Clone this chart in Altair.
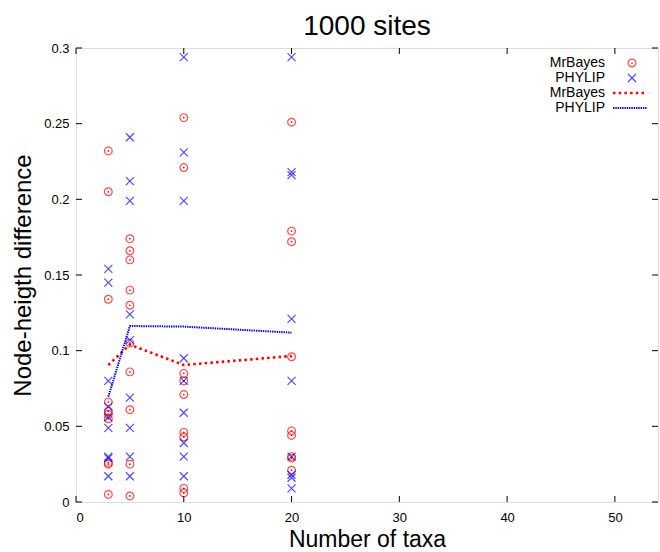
import altair as alt
import pandas as pd

# Node-height difference per replicate, grouped by number of taxa
mrbayes_3 = [0.232, 0.205, 0.134, 0.066, 0.060, 0.058, 0.055, 0.026, 0.025, 0.005]
phylip_3 = [0.154, 0.145, 0.080, 0.063, 0.056, 0.049, 0.030, 0.029, 0.017]
mrbayes_5 = [0.174, 0.166, 0.160, 0.140, 0.130, 0.105, 0.086, 0.061, 0.025, 0.004]
phylip_5 = [0.241, 0.212, 0.199, 0.124, 0.107, 0.069, 0.049, 0.030, 0.017]
mrbayes_10 = [0.254, 0.221, 0.085, 0.080, 0.071, 0.046, 0.043, 0.009, 0.006]
phylip_10 = [0.294, 0.231, 0.199, 0.095, 0.080, 0.059, 0.039, 0.030, 0.017]
mrbayes_20 = [0.251, 0.179, 0.172, 0.096, 0.047, 0.044, 0.030, 0.029, 0.021]
phylip_20 = [0.294, 0.218, 0.216, 0.121, 0.080, 0.030, 0.018, 0.016, 0.009]

# Mean curves
taxa = [3, 5, 10, 20]
mrbayes_mean = [0.0905, 0.104, 0.0905, 0.0965]
phylip_mean = [0.0696, 0.1163, 0.1159, 0.1119]

x_ticks = [0, 10, 20, 30, 40, 50]
y_ticks = [0, 0.05, 0.1, 0.15, 0.2, 0.25, 0.3]
key_labels = ["MrBayes", "PHYLIP", "MrBayes", "PHYLIP"]

W, H = 582, 454
FONT = "Liberation Sans"
RED = "#ff0000"
BLUE = "#0000ff"


def points(groups):
    rows = []
    for n, vals in groups:
        rows += [{"taxa": n, "diff": v} for v in vals]
    return pd.DataFrame(rows)


mb_pts = points([(3, mrbayes_3), (5, mrbayes_5), (10, mrbayes_10), (20, mrbayes_20)])
ph_pts = points([(3, phylip_3), (5, phylip_5), (10, phylip_10), (20, phylip_20)])
mb_line = pd.DataFrame({"taxa": taxa, "diff": mrbayes_mean})
ph_line = pd.DataFrame({"taxa": taxa, "diff": phylip_mean})

xs = alt.Scale(domain=[0, 54], nice=False, zero=False)
ys = alt.Scale(domain=[0, 0.3], nice=False)

X = alt.X("taxa:Q", scale=xs, title="Number of taxa",
          axis=alt.Axis(values=x_ticks, tickSize=0, domain=False, grid=False,
                        labelPadding=9, titlePadding=4, labelFontSize=13,
                        titleFontSize=23, labelFont=FONT, titleFont=FONT,
                        titleFontWeight="normal", labelColor="black",
                        titleColor="black"))
Y = alt.Y("diff:Q", scale=ys, title="Node-heigth difference",
          axis=alt.Axis(values=y_ticks, format="~g", tickSize=0, domain=False,
                        grid=False, labelPadding=7, titlePadding=8,
                        labelFontSize=13, titleFontSize=24, labelFont=FONT,
                        titleFont=FONT, titleFontWeight="normal",
                        labelColor="black", titleColor="black"))

X_CROSS = "M-1,-1L1,1M-1,1L1,-1"

mb_circ = alt.Chart(mb_pts).mark_point(
    shape="circle", size=60, color=RED, strokeWidth=1.2, filled=False
).encode(x=X, y=Y)
mb_dot = alt.Chart(mb_pts).mark_point(
    shape="circle", size=3, color=RED, filled=True, opacity=1
).encode(x="taxa:Q", y="diff:Q")
ph_x = alt.Chart(ph_pts).mark_point(
    shape=X_CROSS, size=64, color=BLUE, strokeWidth=1.2, filled=False
).encode(x="taxa:Q", y="diff:Q")

mb_ln = alt.Chart(mb_line).mark_line(
    color=RED, strokeWidth=2.6, strokeDash=[2.5, 3.2]
).encode(x="taxa:Q", y="diff:Q")
ph_ln = alt.Chart(ph_line).mark_line(
    color=BLUE, strokeWidth=2, strokeDash=[1.4, 0.9]
).encode(x="taxa:Q", y="diff:Q")

# Inward tick marks on all four sides
xt = pd.DataFrame({"taxa": x_ticks})
yt = pd.DataFrame({"diff": y_ticks})
tick_style = dict(color="black", strokeWidth=1)
ticks = [
    alt.Chart(xt).mark_rule(**tick_style).encode(
        x="taxa:Q", y=alt.value(H), y2=alt.value(H - 6)),
    alt.Chart(xt).mark_rule(**tick_style).encode(
        x="taxa:Q", y=alt.value(0), y2=alt.value(6)),
    alt.Chart(yt).mark_rule(**tick_style).encode(
        y="diff:Q", x=alt.value(0), x2=alt.value(6)),
    alt.Chart(yt).mark_rule(**tick_style).encode(
        y="diff:Q", x=alt.value(W), x2=alt.value(W - 6)),
]

# Key in the upper right corner
one = pd.DataFrame({"k": [0]})
key_rows_y = [15, 30, 45, 60]
key_text = [
    alt.Chart(one).mark_text(
        align="right", baseline="middle", font=FONT, fontSize=14,
        color="black", text=label
    ).encode(x=alt.value(529), y=alt.value(ky))
    for label, ky in zip(key_labels, key_rows_y)
]
key_circ = alt.Chart(one).mark_point(
    shape="circle", size=60, color=RED, strokeWidth=1.2
).encode(x=alt.value(556), y=alt.value(15))
key_dot = alt.Chart(one).mark_point(
    shape="circle", size=3, color=RED, filled=True, opacity=1
).encode(x=alt.value(556), y=alt.value(15))
key_x = alt.Chart(one).mark_point(
    shape=X_CROSS, size=64, color=BLUE, strokeWidth=1.2
).encode(x=alt.value(556), y=alt.value(30))
key_mb = alt.Chart(one).mark_rule(
    color=RED, strokeWidth=2.6, strokeDash=[2.5, 3.2]
).encode(x=alt.value(537), x2=alt.value(571), y=alt.value(45))
key_ph = alt.Chart(one).mark_rule(
    color=BLUE, strokeWidth=2, strokeDash=[1.4, 0.9]
).encode(x=alt.value(537), x2=alt.value(571), y=alt.value(60))

chart = alt.layer(
    mb_circ, mb_dot, ph_x, mb_ln, ph_ln, *ticks,
    *key_text, key_circ, key_dot, key_x, key_mb, key_ph,
).properties(
    width=W,
    height=H,
    title=alt.TitleParams("1000 sites", font=FONT, fontSize=28,
                          fontWeight="normal", color="black", offset=1),
    autosize=alt.AutoSizeParams(type="none"),
    padding={"left": 76, "top": 48, "right": 2, "bottom": 50},
).configure_view(
    stroke="black", strokeWidth=1.2
).configure(background="white")

chart.save("out.html", embed_options={"renderer": "svg", "actions": False})
